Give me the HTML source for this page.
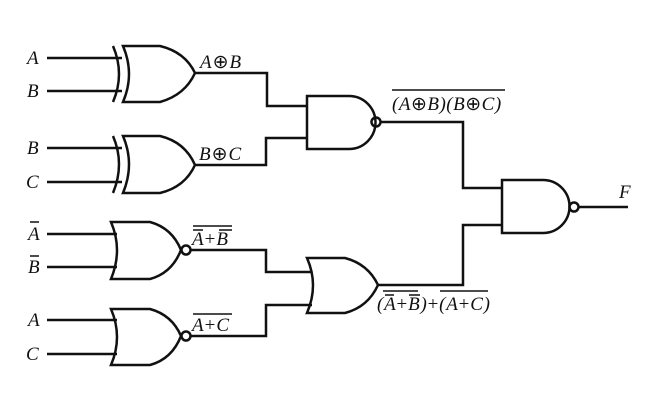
<!DOCTYPE html>
<html><head><meta charset="utf-8"><style>
html,body{margin:0;padding:0;background:#fff;}
svg{display:block;}
text{font-family:"Liberation Serif",serif;font-style:italic;font-size:19px;fill:#111;}
.u{font-style:normal;}
</style></head><body>
<svg width="647" height="402" viewBox="0 0 647 402" xmlns="http://www.w3.org/2000/svg">
<g fill="none" stroke="#111" stroke-width="2.5" stroke-linejoin="miter">
<!-- XOR1 -->
<path d="M47 58H122 M47 91H122"/>
<path d="M113 46 Q125 74 113 102"/>
<path d="M123 46 H160 Q185 52 195 73 Q185 95 160 102 H123 Q135 74 123 46 Z"/>
<path d="M195 73 H267 V106 H307"/>
<!-- XOR2 -->
<path d="M47 148H122 M47 182H122"/>
<path d="M113 136 Q125 164 113 193"/>
<path d="M123 136 H160 Q185 142 195 165 Q185 187 160 193 H123 Q135 164 123 136 Z"/>
<path d="M195 165 H266 V138 H307"/>
<!-- NAND1 -->
<path d="M307 96 H349 A26.5 26.5 0 0 1 349 149 H307 Z"/>
<circle cx="376" cy="122" r="4.5"/>
<path d="M380.5 122 H463 V188 H502"/>
<!-- NAND2 -->
<path d="M502 180 H543 A26.5 26.5 0 0 1 543 233 H502 Z"/>
<circle cx="574" cy="207" r="4.5"/>
<path d="M578.5 207 H628"/>
<!-- NOR1 -->
<path d="M47 234H117 M47 267H117"/>
<path d="M111 222 H150 Q172 228 181 250 Q172 273 150 279 H111 Q123 250 111 222 Z"/>
<circle cx="186" cy="250" r="4.5"/>
<path d="M190.5 250 H266 V272 H312"/>
<!-- NOR2 -->
<path d="M47 320H117 M47 354H117"/>
<path d="M111 309 H150 Q172 315 181 336 Q172 359 150 365 H111 Q123 337 111 309 Z"/>
<circle cx="186" cy="336" r="4.5"/>
<path d="M190.5 336 H266 V305 H312"/>
<!-- OR3 -->
<path d="M307 258 H345 Q368 264 378 285 Q368 307 345 313 H307 Q319 285 307 258 Z"/>
<path d="M378 285 H463 V225 H502"/>
<!-- overbars -->
<path stroke-width="1.4" d="M392 90 H505 M193 226 H232 M193 230 H203 M219 230 H232 M193 314 H232 M383 291 H418 M385 295 H394 M409 295 H420 M440 291 H488 M30 222 H39 M30 256 H39"/>
</g>
<text x="27" y="64">A</text>
<text x="27" y="97">B</text>
<text x="27" y="154">B</text>
<text x="26" y="188">C</text>
<text x="28" y="240">A</text>
<text x="28" y="273">B</text>
<text x="28" y="326">A</text>
<text x="26" y="360">C</text>
<text x="200" y="68" letter-spacing="1">A<tspan class="u">⊕</tspan>B</text>
<text x="199" y="160" letter-spacing="1">B<tspan class="u">⊕</tspan>C</text>
<text x="392" y="110" letter-spacing="0.5">(A<tspan class="u">⊕</tspan>B)(B<tspan class="u">⊕</tspan>C)</text>
<text x="192" y="245" letter-spacing="1">A<tspan class="u">+</tspan>B</text>
<text x="192" y="331" letter-spacing="1">A<tspan class="u">+</tspan>C</text>
<text x="377" y="310" letter-spacing="0.8">(A<tspan class="u">+</tspan>B)<tspan class="u">+</tspan>(A<tspan class="u">+</tspan>C)</text>
<text x="619" y="198">F</text>
</svg>
</body></html>
